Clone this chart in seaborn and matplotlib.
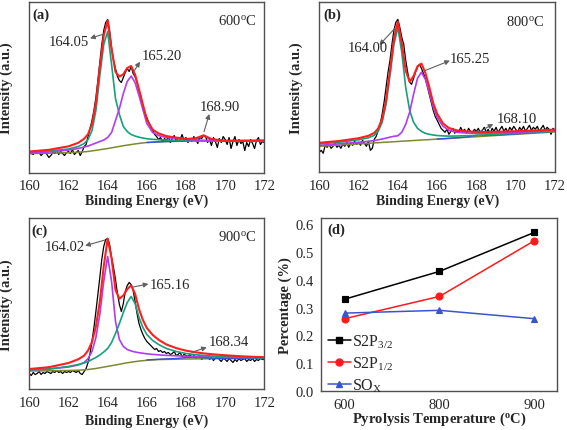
import numpy as np
import pandas as pd
import matplotlib
matplotlib.use('Agg')
import matplotlib.pyplot as plt
from matplotlib.lines import Line2D
from matplotlib.ticker import MultipleLocator
import seaborn as sns

sns.set_theme(style='white')
plt.rcParams['font.family'] = ['Liberation Serif', 'DejaVu Serif']
plt.rcParams['mathtext.fontset'] = 'custom'
plt.rcParams['mathtext.rm'] = 'Liberation Serif'
plt.rcParams['mathtext.it'] = 'Liberation Serif:italic'
plt.rcParams['mathtext.bf'] = 'Liberation Serif:bold'

# ---- XPS S2p spectra (intensity in arbitrary units) ----
energy_raw = np.linspace(160, 172, 121)

raw_600 = [21, 19, 18, 22, 19, 20, 17, 19, 21, 18,
           15, 17, 20, 19, 22, 18, 21, 19, 17, 20,
           21, 19, 23, 18, 20, 22, 17, 21, 26, 28,
           36, 44, 52, 62, 75, 92, 110, 128, 142, 150,
           153, 142, 125, 112, 104, 96, 92, 90, 95, 100,
           104, 101, 106, 99, 96, 90, 82, 76, 66, 60,
           55, 50, 46, 42, 38, 36, 33, 35, 31, 34,
           32, 36, 30, 34, 37, 31, 35, 33, 38, 32,
           35, 30, 34, 31, 36, 33, 29, 35, 34, 37,
           36, 30, 33, 27, 35, 31, 25, 34, 30, 36,
           33, 28, 35, 24, 31, 36, 27, 33, 29, 31,
           22, 30, 26, 33, 29, 24, 32, 35, 28, 31,
           30]
raw_800 = [20, 22, 19, 27, 25, 28, 24, 26, 29, 25,
           27, 24, 28, 26, 30, 25, 29, 27, 31, 28,
           30, 27, 32, 29, 26, 31, 22, 24, 33, 36,
           42, 48, 58, 70, 85, 100, 112, 128, 142, 150,
           153, 145, 135, 128, 112, 100, 90, 88, 94, 100,
           105, 108, 104, 99, 94, 86, 78, 70, 62, 56,
           52, 48, 44, 42, 40, 43, 38, 41, 44, 39,
           42, 40, 45, 41, 43, 39, 44, 41, 40, 43,
           41, 44, 39, 42, 45, 40, 43, 38, 44, 41,
           45, 40, 43, 46, 41, 44, 40, 45, 42, 46,
           43, 40, 45, 42, 46, 41, 44, 47, 42, 45,
           43, 46, 41, 44, 47, 42, 45, 43, 38, 44,
           42]
raw_900 = [16, 14, 17, 15, 16, 18, 15, 17, 16, 18,
           17, 16, 18, 17, 19, 17, 18, 16, 18, 17,
           18, 17, 19, 18, 17, 19, 16, 15, 18, 21,
           27, 36, 48, 62, 78, 95, 112, 130, 143, 150,
           151, 145, 132, 122, 110, 96, 85, 78, 86, 98,
           104, 107, 105, 99, 88, 76, 66, 60, 55, 51,
           48, 46, 44, 42, 40, 41, 38, 39, 37, 38,
           36, 37, 35, 36, 38, 34, 35, 37, 33, 35,
           34, 33, 35, 32, 34, 31, 33, 34, 30, 32,
           31, 33, 30, 32, 29, 31, 33, 30, 28, 31,
           30, 28, 31, 29, 27, 30, 28, 31, 29, 30,
           31, 28, 30, 29, 31, 28, 30, 29, 31, 30,
           30]

energy_fit = [160, 161, 162, 162.5, 162.8, 163, 163.2, 163.4, 163.6, 163.8,
              164, 164.2, 164.4, 164.6, 164.8, 165, 165.2, 165.4, 165.6, 165.8,
              166, 166.3, 166.6, 167, 167.5, 168, 168.5, 168.9, 169.3, 170,
              171, 172]

# 600 C
fit_600 = [21, 22.7, 26.2, 29.7, 33.8, 38.4, 48.4, 69.3, 105.2, 137.1,
           152, 123.3, 100.6, 95.9, 98.2, 104.6, 106.5, 97.9, 83.2, 67.9,
           52.8, 42.8, 39.1, 36.4, 34.9, 33.5, 34.3, 37.2, 33.5, 31.8,
           31.8, 31.9]
p32_600 = [20.5, 21.5, 23.5, 26, 29, 33, 42, 62, 97, 128,
           141, 108, 74, 58, 46, 41, 38, 36.5, 35.3, 34.5,
           33.8, 33.2, 32.8, 32.4, 32.1, 31.9, 31.8, 31.7, 31.7, 31.7,
           31.8, 31.9]
p12_600 = [19.5, 20.5, 22.5, 24, 25.5, 26.5, 28, 29.5, 31, 32.5,
           35, 40, 52, 64, 79, 91, 96.5, 90, 77, 63,
           49, 40, 37, 35, 34, 33, 32.5, 32.2, 32, 31.8,
           31.8, 31.9]
bg_600 = [19, 19.3, 19.8, 20.3, 20.7, 21.1, 21.6, 22.2, 22.8, 23.4,
          24, 24.7, 25.4, 26.1, 26.8, 27.4, 28, 28.6, 29.1, 29.6,
          30, 30.4, 30.7, 31, 31.2, 31.4, 31.5, 31.6, 31.6, 31.7,
          31.8, 31.9]

# 800 C
fit_800 = [29.5, 31.3, 34.1, 36.5, 39.4, 43.9, 53.4, 72.1, 101.9, 133.4,
           150.7, 128.9, 101.7, 90.5, 96.2, 106, 108.7, 99.5, 85.3, 69.3,
           58.6, 48.8, 44.3, 41.9, 40.9, 40.4, 40.3, 40.5, 40.7, 41.1,
           41.8, 42.7]
p32_800 = [28.5, 30, 32.5, 34.5, 37, 41, 50, 68, 97, 128,
           145, 120, 85, 62, 50, 44, 41, 39, 38, 37.3,
           36.8, 36.4, 36.2, 36.3, 36.6, 37, 37.5, 38, 38.4, 39.1,
           40.2, 41.3]
p12_800 = [27, 28.5, 30, 31, 31.8, 32.5, 33.3, 34.2, 35.2, 36,
           36.5, 40, 48, 60, 78, 94, 100, 93, 80, 65,
           55, 46, 42, 40, 39.3, 39, 39, 39.2, 39.5, 40,
           40.8, 41.8]
bg_800 = [26, 27.2, 28.4, 29, 29.4, 29.6, 29.9, 30.1, 30.3, 30.6,
          30.8, 31.1, 31.3, 31.5, 31.8, 32, 32.3, 32.5, 32.7, 33,
          33.2, 33.6, 33.9, 34.4, 35, 35.6, 36.2, 36.7, 37.2, 38,
          39.2, 40.4]

# 900 C
fit_900 = [20.5, 22.3, 26.5, 30.2, 33.9, 39, 47.5, 63, 87.8, 123.1,
           150.9, 131.2, 99.5, 90.8, 94, 100.3, 104.2, 95.6, 80.4, 69.4,
           61.5, 54.5, 49.7, 45, 41.4, 38.8, 37.2, 36.1, 35.3, 34.2,
           33, 32.3]
p32_900 = [19.5, 20.5, 22.5, 24.5, 27, 31, 38, 52, 75, 108,
           133, 108, 68, 50, 43, 40, 38.5, 37.5, 36.8, 36.2,
           35.7, 35.1, 34.6, 34.1, 33.7, 33.3, 33, 32.8, 32.6, 32.3,
           32, 31.7]
p12_900 = [19.5, 20.5, 23, 25, 26.5, 28, 30, 32, 34.5, 37.5,
           41, 47, 56, 66, 77, 87, 93, 86, 72, 62,
           55, 49, 45, 41, 38, 36, 34.8, 34, 33.5, 32.8,
           32, 31.6]
bg_900 = [18.5, 18.7, 19, 19.3, 19.6, 20, 20.5, 21, 21.7, 22.4,
          23.1, 23.8, 24.5, 25.2, 26, 26.7, 27.3, 27.9, 28.4, 28.8,
          29.2, 29.6, 29.9, 30.1, 30.3, 30.5, 30.6, 30.7, 30.8, 30.9,
          31, 31]

# small SOx component
energy_sox = [166, 167, 167.5, 168, 168.5, 168.9, 169.3, 170, 171, 172]
sox_600 = [30, 31, 31.2, 31.5, 33, 36.4, 33, 31.8, 31.8, 31.9]
sox_800 = [33.2, 34.5, 35.4, 37, 37, 37.2, 37.6, 38.4, 39.8, 41.1]
sox_900 = [29.6, 30.6, 31, 32, 32.3, 31.8, 31.3, 31.1, 31.1, 31.1]

# ---- panel (d): sulfur species vs pyrolysis temperature ----
temps = ['600', '800', '900']
pct_s2p32 = [0.33, 0.43, 0.57]
pct_s2p12 = [0.26, 0.34, 0.54]
pct_sox = [0.28, 0.29, 0.26]

RED = '#ff1f1f'
GREEN = '#17a07c'
PURPLE = '#b03cf0'
OLIVE = '#7f8a2e'
BLUE = '#3653d8'
SPINE = '#505050'

fig = plt.figure(figsize=(5.67, 4.31), dpi=100)
ax_a = fig.add_axes([0.0517, 0.5974, 0.4145, 0.3956])
ax_b = fig.add_axes([0.5631, 0.5979, 0.4157, 0.3951])
ax_c = fig.add_axes([0.0517, 0.0940, 0.4145, 0.3979])
ax_d = fig.add_axes([0.5661, 0.0905, 0.4162, 0.4014])


def style_box(ax):
    for s in ax.spines.values():
        s.set_color(SPINE)
        s.set_linewidth(1.0)
    ax.tick_params(which='both', direction='out', color=SPINE, width=0.8,
                   labelsize=10.5, pad=1.5)
    ax.tick_params(which='major', length=3.5)
    ax.tick_params(which='minor', length=2)


def draw_spectrum(ax, raw, fit, comp1, comp2, bg, sox, c1, c2, ytop, xlab_y):
    sns.lineplot(x=energy_raw, y=raw, ax=ax, color='black', lw=0.9, errorbar=None)
    sns.lineplot(x=energy_fit, y=bg, ax=ax, color=OLIVE, lw=1.1, errorbar=None)
    sns.lineplot(x=energy_sox, y=sox, ax=ax, color=BLUE, lw=1.0, errorbar=None)
    sns.lineplot(x=energy_fit, y=comp1, ax=ax, color=c1, lw=1.2, errorbar=None)
    sns.lineplot(x=energy_fit, y=comp2, ax=ax, color=c2, lw=1.2, errorbar=None)
    sns.lineplot(x=energy_fit, y=fit, ax=ax, color=RED, lw=1.5, errorbar=None)
    ax.set_xlim(160, 172)
    ax.set_ylim(0, ytop)
    ax.set_xticks(range(160, 173, 2))
    ax.xaxis.set_minor_locator(MultipleLocator(1))
    ax.set_yticks([])
    style_box(ax)
    ax.set_xlabel('Binding Energy (eV)', fontsize=10, fontweight='bold')
    ax.set_ylabel('Intensity (a.u.)', fontsize=10.5, fontweight='bold')
    ax.xaxis.set_label_coords(0.5, xlab_y)
    ax.yaxis.set_label_coords(-0.069, 0.5)


def peak_label(ax, text, txy, head, tail):
    ax.annotate('', xy=head, xytext=tail,
                arrowprops=dict(arrowstyle='-|>', color='#606060', lw=0.8,
                                mutation_scale=7, shrinkA=0, shrinkB=0))
    ax.text(txy[0], txy[1], text, ha='center', va='center', fontsize=10.5)


draw_spectrum(ax_a, raw_600, fit_600, p32_600, p12_600, bg_600, sox_600,
              GREEN, PURPLE, 170.5, -0.125)
ax_a.text(0.012, 0.97, '(a)', transform=ax_a.transAxes, ha='left', va='top',
          fontsize=10.5, fontweight='bold')
ax_a.text(170.63, 152.5, r'600$^\mathrm{o}$C', ha='center', va='center', fontsize=10.5)
peak_label(ax_a, '164.05', (162.03, 131.5), (163.1, 134.2), (163.82, 138.5))
peak_label(ax_a, '165.20', (166.75, 117), (165.65, 110.8), (165.36, 101.8))
peak_label(ax_a, '168.90', (169.75, 66), (169.19, 58.5), (168.92, 40.8))

draw_spectrum(ax_b, raw_800, fit_800, p32_800, p12_800, bg_800, sox_800,
              GREEN, PURPLE, 170.3, -0.125)
ax_b.text(0.016, 0.97, '(b)', transform=ax_b.transAxes, ha='left', va='top',
          fontsize=10.5, fontweight='bold')
ax_b.text(170.5, 151.3, r'800$^\mathrm{o}$C', ha='center', va='center', fontsize=10.5)
peak_label(ax_b, '164.00', (162.45, 124.8), (163.06, 127.3), (163.85, 144))
peak_label(ax_b, '165.25', (167.67, 114.3), (166.65, 111.7), (165.38, 101.7))
peak_label(ax_b, '168.10', (170.05, 54.3), (168.86, 48.3), (168.1, 40))

draw_spectrum(ax_c, raw_900, fit_900, p32_900, p12_900, bg_900, sox_900,
              PURPLE, GREEN, 171.5, -0.143)
ax_c.text(0.01, 0.97, '(c)', transform=ax_c.transAxes, ha='left', va='top',
          fontsize=10.5, fontweight='bold')
ax_c.text(170.6, 153, r'900$^\mathrm{o}$C', ha='center', va='center', fontsize=10.5)
peak_label(ax_c, '164.02', (161.82, 143), (162.85, 143.8), (163.87, 149.5))
peak_label(ax_c, '165.16', (167.19, 104.5), (166.08, 105.5), (165.23, 102.2))
peak_label(ax_c, '168.34', (170.2, 48), (169.06, 42.2), (168.3, 37.2))

# ---- panel (d) ----
series_names = ['S2P3/2', 'S2P1/2', 'SOx']
pct_df = pd.DataFrame({
    'temp': temps * 3,
    'pct': pct_s2p32 + pct_s2p12 + pct_sox,
    'series': [series_names[0]] * 3 + [series_names[1]] * 3 + [series_names[2]] * 3,
})
d_colors = ['black', '#ff1a1a', '#3a55cc']
d_markers = ['s', 'o', '^']
sns.pointplot(data=pct_df, x='temp', y='pct', hue='series', order=temps,
              hue_order=series_names, palette=d_colors, markers=d_markers,
              linestyles='-', errorbar=None, markersize=5, linewidth=1.1,
              legend=False, ax=ax_d)
ax_d.set_xlim(-0.25, 2.24)
ax_d.set_xticks([0, 0.5, 1, 1.5, 2])
ax_d.set_xticklabels(['600', '', '800', '', '900'])
ax_d.xaxis.set_minor_locator(MultipleLocator(0.25))
ax_d.set_ylim(0, 0.622)
ax_d.set_yticks(np.arange(0, 0.61, 0.1))
ax_d.set_yticklabels(['0.0', '0.1', '0.2', '0.3', '0.4', '0.5', '0.6'])
ax_d.yaxis.set_minor_locator(MultipleLocator(0.05))
style_box(ax_d)
ax_d.set_xlabel(r'Pyrolysis Temperature ($^\mathbf{o}$C)', fontsize=10.5,
                fontweight='bold')
ax_d.set_ylabel('Percentage (%)', fontsize=10.5, fontweight='bold')
ax_d.xaxis.set_label_coords(0.5, -0.11)
ax_d.yaxis.set_label_coords(-0.123, 0.5)
ax_d.text(0.025, 0.975, '(d)', transform=ax_d.transAxes, ha='left', va='top',
          fontsize=10.5, fontweight='bold')

handles = [Line2D([], [], color=c, marker=m, markersize=5, lw=1.1)
           for c, m in zip(d_colors, d_markers)]
labels = [r'S2P$_{3/2}$', r'S2P$_{1/2}$', r'SO$_\mathrm{X}$']
ax_d.legend(handles, labels, loc='lower left', bbox_to_anchor=(-0.01, -0.075),
            frameon=False, fontsize=11.5, handlelength=1.4, handletextpad=0.1,
            labelspacing=0.3, borderaxespad=0.2)

fig.savefig('out.png', dpi=100)
